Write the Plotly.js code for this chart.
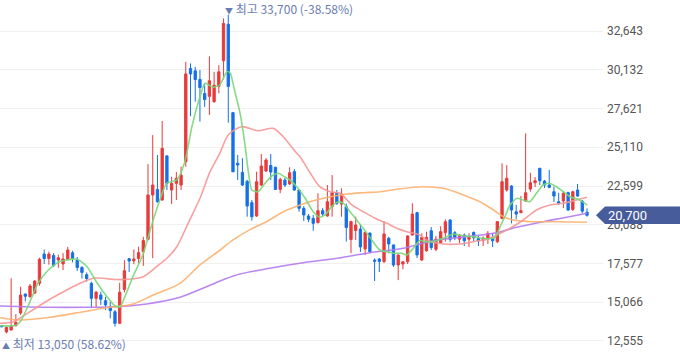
<!DOCTYPE html>
<html><head><meta charset="utf-8">
<script src="https://cdn.plot.ly/plotly-3.0.1.min.js"></script>
<style>html,body{margin:0;padding:0;background:#fff;}#chart{width:680px;height:358px;}</style>
</head><body><div id="chart"></div>
<script>
// ---- candle data (KRW), one per trading day ----
const openP = [13550,13140,13270,13560,14370,15600,15430,15660,16290,18190,17900,18100,17800,17550,17850,18270,17800,17320,16850,16290,
15320,15540,15170,14780,14450,13700,15900,17890,17750,17900,18340,19145,22016,22380,21690,24550,22340,22770,22660,24170,
30220,30060,29500,28590,28410,28060,29050,30720,33080,27350,24070,23480,22900,21520,20655,22664,23571,23930,23810,22380,
22980,22730,23530,22340,21150,20655,20500,20220,21000,20655,21260,22130,21430,21260,19130,19720,19810,18520,19550,17800,
17870,17700,19210,18780,17480,17540,17690,19420,20870,17800,18400,19700,18500,18920,19570,20390,19570,19150,19420,19150,
19590,19200,19080,19160,19210,18990,20500,22340,22600,20930,20870,21620,22400,22810,23750,22920,22660,22230,21580,21630,
22170,21080,22340,21620,20900];
const highP = [13600,13480,16620,14300,16070,15620,16250,16500,17950,18480,18350,18250,18150,18250,18650,18400,18000,17400,17000,16400,
15800,15750,15420,15100,14560,16330,17800,17930,18490,18670,19310,24020,25900,24610,26810,24600,23200,23500,23850,30650,
30540,30320,30115,29240,31000,30000,30430,33460,33700,27400,24610,24400,23000,21690,23526,24673,24400,24673,23850,23140,
23120,23810,23700,22400,21300,20780,20720,22130,21170,22660,23310,22340,22450,21460,20350,20610,20140,19640,19580,17910,
17930,20330,19310,18800,18150,17700,19400,21480,20930,19530,19640,19940,19360,19990,20440,20460,19680,19490,19520,19530,
19650,19360,19330,19680,19550,20330,24070,23950,22660,21370,21950,26010,23460,23180,23760,22990,23640,22550,22160,22230,
22230,22290,22730,21690,21150];
const lowP = [13450,13050,13230,13480,14240,15120,15350,15600,16140,17550,17500,17350,17300,17150,17800,17650,17100,16600,16400,14680,
14700,14890,14560,14020,13480,13650,15700,17030,17530,17600,17420,19080,17920,21520,21650,22340,21430,21690,22340,23850,
27120,28060,26770,27720,27200,28000,28600,29510,26700,23500,22990,22600,20610,20350,20600,22600,23500,22990,22340,22130,
22530,22660,22300,20930,20330,20260,19700,20180,20650,20610,20610,21370,20610,19000,18240,19100,18320,18130,18250,16440,
17030,17600,18240,17350,16500,17200,17540,19400,17930,17750,18340,18450,18380,18870,18990,18970,19090,18900,18710,18640,
19030,18710,18710,18840,18640,18900,20440,22230,20180,20440,20830,21580,22230,22530,22660,22470,22450,21560,21370,21170,
20990,20980,21900,20830,20610];
const closeP = [13480,13440,13530,13760,15530,15450,16120,16440,17850,17900,18190,17450,17950,17870,18450,17900,17320,17000,16600,15320,
15710,15260,14890,14520,13700,15710,17110,17740,17870,18280,19060,22016,22660,21580,25040,22770,22770,23100,23310,29860,
29860,29500,28980,28200,29420,29130,30000,33130,29050,23520,23960,22660,21300,20610,22878,23895,24284,23500,22380,23030,
22660,23460,22340,21150,20720,20440,20180,21000,20780,21580,22170,21480,22080,19910,20290,20070,18650,19590,18340,17720,
17710,19490,18840,17480,18130,17690,19360,20780,18130,19270,19270,18610,19150,19640,20280,19140,19270,19420,19050,19270,
19240,19050,19210,19530,19050,20290,22880,23100,21040,20780,21000,22160,22810,22940,22940,22660,22510,21950,21480,22130,
21040,22230,21950,20970,20700];

// ---- moving averages (day index, value) ----
const ma5Day = [-0.36,2.8,3.9,5.7,7.7,9.8,12,14.9,16,18.1,20.2,22.3,24,25.1,26.1,27.8,29.9,32.1,33.5,35,37.1,38.8,40.3,42,43.1,44.8,46.2,47.7,48.4,49.4,50.5,51.5,52.2,53,54.3,55.8,57.2,58.6,60,61.1,62.5,64.3,66,67.4,68.5,69.9,71.3,72.4,73.8,75.2,76.6,78.4,80.1,81.6,83,84.7,85.8,87.2,88.6,90,91.4,93.6,95.7,96.7,98.5,100.6,102.8,104.5,105.6,106.6,107.7,109.1,110.5,111.9,113.3,114.7,116,117.5,119,120.4,122.5,124];
const ma5Val = [13546,13560,13786,14900,16300,17120,17660,17860,17849,17370,16313,15426,14823,14778,15426,16722,18128,20396,21692,22793,22988,24174,26442,28386,29254,28995,29144,30006,29922,28710,27310,25366,23636,22340,22230,22774,23247,23422,23182,22988,22554,21802,20934,20571,20720,21258,21582,21478,20934,20396,19858,19100,18452,18342,18238,18238,18128,18562,19067,18990,18990,19210,19489,19424,19359,19275,19184,19275,19962,20610,21368,21802,21692,21582,22126,22664,22774,22554,22230,21906,21692,21368];
const ma20Day = [-0.36,2.46,6,10.2,13.8,16.6,19.4,21.5,24,26.8,30,32.8,35,37.1,39.5,42,44.1,46.2,48,50.8,54.3,57.5,59.7,61.1,62.5,63.2,65.3,67.4,69.6,71.7,74.2,76.6,79.1,81.6,83.7,85.8,88.6,90,93.6,97.1,99.9,102.8,104.9,107.7,110.5,113.3,116.2,119,121.8,124];
const ma20Val = [13702,13806,14454,15257,15860,16294,16618,16618,16540,16553,16722,17370,17914,18666,20182,21802,23500,24718,25904,26442,26182,26338,25775,25256,24718,24498,23474,22554,22230,22126,21368,20934,20506,20182,19858,19638,19424,19100,18841,18841,18990,19145,19424,19858,20396,21044,21368,21478,21692,21867];
const ma60Day = [-0.36,3.9,10.2,17.3,22.9,27.9,32.1,37.8,42,46.3,49.1,52.6,56.1,59.7,63.2,66,69.6,73.1,76.6,80.2,84.4,89.3,93.6,97.8,101.3,104.2,106.3,108.4,112.6,118.3,124];
const ma60Val = [14065,13916,14091,14454,14739,14953,15536,16294,17480,18452,19120,19770,20286,20934,21368,21646,21906,22080,22165,22230,22418,22554,22450,22016,21582,21044,20610,20396,20286,20286,20247];
const ma120Day = [-0.36,10.2,17.3,24.4,30.7,37.8,43.4,47.3,50.5,56.8,63.9,71,78,85.1,91.4,98.5,104.9,109.1,114.7,119.7,124];
const ma120Val = [14823,14739,14739,14778,14953,15387,16074,16573,16897,17266,17629,17914,18277,18562,19054,19314,19573,19923,20286,20570,20830];

const yTicks = [12555,15066,17577,20088,22599,25110,27621,30132,32643];

const days = openP.map((_, i) => i);
const fmt = v => v.toLocaleString('en-US');

const upColor = '#e83a3b', downColor = '#1570e6';
const traces = [
  {type:'scatter', mode:'lines', x:ma120Day, y:ma120Val, line:{color:'rgba(178,122,240,0.9)', width:1.6, shape:'spline', smoothing:0.8}, hoverinfo:'skip'},
  {type:'scatter', mode:'lines', x:ma60Day, y:ma60Val, line:{color:'rgba(253,176,110,0.9)', width:1.6, shape:'spline', smoothing:0.8}, hoverinfo:'skip'},
  {type:'scatter', mode:'lines', x:ma20Day, y:ma20Val, line:{color:'rgba(246,150,150,0.9)', width:1.6, shape:'spline', smoothing:0.8}, hoverinfo:'skip'},
  {type:'candlestick', x:days, open:openP, high:highP, low:lowP, close:closeP,
    increasing:{line:{color:upColor, width:1}, fillcolor:upColor},
    decreasing:{line:{color:downColor, width:1}, fillcolor:downColor},
    whiskerwidth:0, hoverinfo:'skip'},
  {type:'scatter', mode:'lines', x:ma5Day, y:ma5Val, line:{color:'rgba(120,216,120,0.9)', width:1.6, shape:'spline', smoothing:0.6}, hoverinfo:'skip'}
];

// extremes and last price
let maxI = 0, minI = 0;
highP.forEach((v,i)=>{ if(v>highP[maxI]) maxI=i; });
lowP.forEach((v,i)=>{ if(v<lowP[minI]) minI=i; });
const last = closeP[closeP.length-1];
const pctHigh = ((last - highP[maxI]) / highP[maxI] * 100).toFixed(2);
const pctLow = ((last - lowP[minI]) / lowP[minI] * 100).toFixed(2);

const annFont = {family:'"Noto Sans CJK KR", "Noto Sans", sans-serif', size:12, color:'#6a7cb5'};
const layout = {
  width:680, height:358,
  margin:{l:0, r:77, t:0, b:0},
  paper_bgcolor:'#ffffff', plot_bgcolor:'#ffffff',
  showlegend:false,
  xaxis:{range:[-0.36,127.39], showgrid:false, zeroline:false, showticklabels:false, ticks:'', showline:false, rangeslider:{visible:false}, fixedrange:true},
  yaxis:{side:'right', range:[11453,34652], tickvals:yTicks, ticktext:yTicks.map(fmt),
    showgrid:true, gridcolor:'#efefef', gridwidth:1, zeroline:false, showline:false, ticks:'',
    ticklabelstandoff:3,
    tickfont:{family:'Roboto, "Noto Sans", sans-serif', size:12, color:'#555555'}, fixedrange:true},
  shapes:[{
    type:'path', xref:'paper', yref:'y', xsizemode:'pixel', ysizemode:'pixel',
    xanchor:1, yanchor:last,
    path:'M -7 0 L 2 8.7 L 80 8.7 L 80 -8.7 L 2 -8.7 Z',
    fillcolor:'#475c9b', line:{width:0}, layer:'above'
  }],
  annotations:[
    {xref:'x', yref:'y', x:maxI, y:highP[maxI], xanchor:'left', yanchor:'bottom', xshift:-5, yshift:-4,
     text:'<span style="font-size:8px">▼</span> 최고 ' + fmt(highP[maxI]) + ' (' + pctHigh + '%)',
     showarrow:false, font:annFont},
    {xref:'x', yref:'y', x:minI, y:lowP[minI], xanchor:'left', yanchor:'top', xshift:-6, yshift:0,
     text:'<span style="font-size:8px">▲</span> 최저 ' + fmt(lowP[minI]) + ' (' + pctLow + '%)',
     showarrow:false, font:annFont},
    {xref:'paper', yref:'y', x:1, y:last, xanchor:'left', yanchor:'middle', xshift:3, showarrow:false,
     text:fmt(last), font:{family:'Roboto, "Noto Sans", sans-serif', size:13, color:'#ffffff'}}
  ]
};
Plotly.newPlot('chart', traces, layout, {displayModeBar:false, staticPlot:true});
</script>
</body></html>
